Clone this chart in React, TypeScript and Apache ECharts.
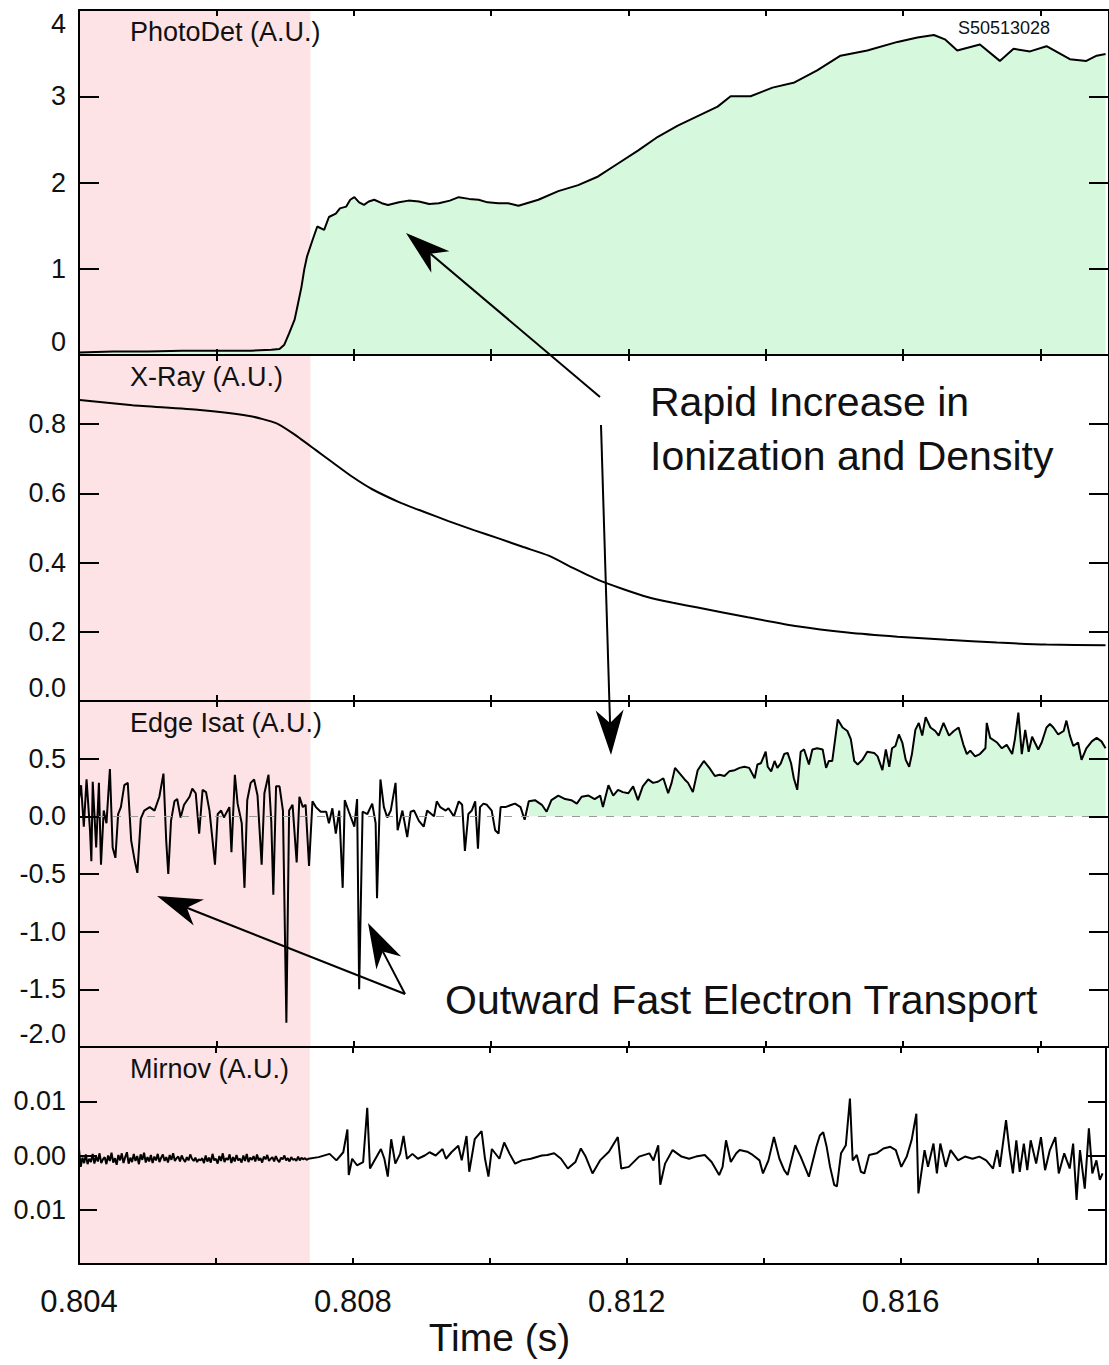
import React, { useEffect, useRef } from "react";
import * as echarts from "echarts";

// ---------- axis / layout values ----------
const X_MIN = 0.804;
const X_MAX = 0.819;
const X_TICK = 0.002;
const X_LABELS = [0.804, 0.808, 0.812, 0.816];
const SHADE_START = 0.804;
const SHADE_END = 0.80737;
const ISAT_FILL_FROM = 0.8105;

// ---------- data: [time (s), value (A.U.)] ----------
const photoDet: [number, number][] = [
  [0.804, 0.03], [0.8045, 0.04], [0.805, 0.04], [0.8055, 0.05], [0.806, 0.05], [0.8065, 0.05],
  [0.8068, 0.06], [0.80692, 0.07], [0.80699, 0.12], [0.80706, 0.25], [0.80714, 0.41], [0.80718, 0.56],
  [0.80724, 0.79], [0.80728, 0.99], [0.80732, 1.14], [0.8074, 1.33], [0.80747, 1.49], [0.80757, 1.45],
  [0.80764, 1.6], [0.80774, 1.64], [0.8078, 1.7], [0.80789, 1.72], [0.80795, 1.8], [0.80801, 1.83],
  [0.80808, 1.77], [0.80815, 1.74], [0.80822, 1.78], [0.8083, 1.8], [0.80841, 1.76], [0.8085, 1.74],
  [0.80866, 1.77], [0.8088, 1.79], [0.80895, 1.78], [0.8091, 1.75], [0.80924, 1.76], [0.8094, 1.79],
  [0.80953, 1.83], [0.80968, 1.81], [0.80982, 1.8], [0.80995, 1.77], [0.81011, 1.76], [0.81025, 1.76],
  [0.8104, 1.73], [0.81069, 1.8], [0.81098, 1.9], [0.81127, 1.97], [0.81156, 2.07], [0.81185, 2.22],
  [0.81214, 2.37], [0.81243, 2.53], [0.81272, 2.66], [0.81301, 2.77], [0.8133, 2.88], [0.81349, 3.0],
  [0.81378, 3.0], [0.8141, 3.1], [0.81442, 3.16], [0.81475, 3.3], [0.81509, 3.47], [0.81548, 3.53],
  [0.81592, 3.63], [0.81621, 3.68], [0.81645, 3.71], [0.81661, 3.66], [0.81679, 3.53], [0.81712, 3.6],
  [0.81741, 3.41], [0.81761, 3.55], [0.81785, 3.52], [0.81809, 3.58], [0.81843, 3.43], [0.81867, 3.41],
  [0.81882, 3.47], [0.81895, 3.49],
];

const xRay: [number, number][] = [
  [0.80401, 0.87], [0.80478, 0.855], [0.80576, 0.841], [0.80648, 0.824], [0.80687, 0.803],
  [0.80711, 0.774], [0.80745, 0.725], [0.80769, 0.69], [0.80798, 0.648], [0.80827, 0.612],
  [0.80866, 0.575], [0.80902, 0.547], [0.80938, 0.52], [0.80975, 0.494], [0.81011, 0.47],
  [0.81047, 0.445], [0.81084, 0.42], [0.8112, 0.384], [0.81156, 0.35], [0.81193, 0.323],
  [0.81229, 0.3], [0.81265, 0.284], [0.81301, 0.27], [0.81374, 0.242], [0.81446, 0.216],
  [0.81519, 0.198], [0.81592, 0.186], [0.81664, 0.177], [0.81737, 0.169], [0.81809, 0.163],
  [0.81895, 0.161],
];

const isat: [number, number][] = [
  [0.804, 0.15], [0.80403, 0.27], [0.80407, -0.09], [0.80411, 0.32], [0.80416, -0.12], [0.80418, -0.39],
  [0.8042, 0.3], [0.80425, -0.27], [0.80429, 0.29], [0.80432, -0.42], [0.80436, 0.05], [0.8044, -0.06],
  [0.80445, 0.41], [0.80449, -0.27], [0.80453, -0.36], [0.80457, 0.02], [0.80461, 0.08], [0.80466, 0.27],
  [0.80471, 0.29], [0.80476, -0.21], [0.80481, -0.38], [0.80485, -0.49], [0.8049, -0.02], [0.80495, 0.05],
  [0.80503, 0.08], [0.8051, 0.05], [0.80517, 0.17], [0.80523, 0.37], [0.80527, -0.21], [0.8053, -0.5],
  [0.80534, -0.04], [0.80539, 0.13], [0.80543, 0.15], [0.80548, -0.01], [0.80553, 0.1], [0.80561, 0.17],
  [0.80565, 0.24], [0.8057, 0.2], [0.80575, -0.15], [0.8058, 0.23], [0.80585, 0.21], [0.8059, 0.05],
  [0.80594, -0.18], [0.80598, -0.42], [0.80602, 0.02], [0.80607, 0.05], [0.80611, -0.01], [0.80619, 0.08],
  [0.80622, -0.31], [0.80627, 0.36], [0.80631, 0.11], [0.80637, -0.06], [0.80641, -0.62], [0.80645, 0.14],
  [0.8065, 0.29], [0.80655, 0.32], [0.8066, 0.18], [0.80666, -0.42], [0.8067, 0.2], [0.80676, 0.36],
  [0.8068, -0.04], [0.80683, -0.68], [0.80687, 0.26], [0.80692, 0.26], [0.80697, 0.05], [0.80702, -1.79],
  [0.80706, 0.05], [0.80711, 0.1], [0.80717, -0.4], [0.80721, 0.17], [0.80726, 0.08], [0.8073, 0.1],
  [0.80735, -0.43], [0.8074, 0.13], [0.80745, 0.08], [0.80752, 0.04], [0.8076, 0.04], [0.80764, -0.06],
  [0.80769, 0.07], [0.80774, -0.15], [0.80779, 0.05], [0.80784, -0.62], [0.80787, 0.14], [0.80793, 0.04],
  [0.80801, -0.09], [0.80805, 0.15], [0.80808, -1.5], [0.80813, 0.04], [0.8082, 0.02], [0.80827, 0.11],
  [0.80832, -0.06], [0.80834, -0.71], [0.80839, 0.32], [0.80844, 0.08], [0.80849, -0.01], [0.80854, 0.05],
  [0.80861, 0.29], [0.80864, -0.12], [0.80871, 0.05], [0.80878, -0.18], [0.80883, 0.04], [0.80888, 0.05],
  [0.80895, -0.04], [0.80902, -0.09], [0.80907, 0.05], [0.80917, 0.0], [0.80921, 0.13], [0.80926, 0.08],
  [0.80934, 0.05], [0.80938, 0.07], [0.80946, 0.0], [0.80953, 0.13], [0.80958, 0.1], [0.80962, -0.3],
  [0.80967, 0.02], [0.80972, 0.05], [0.80977, 0.13], [0.80981, -0.28], [0.80984, 0.08], [0.80989, 0.11],
  [0.80994, 0.1], [0.81001, 0.05], [0.81006, -0.12], [0.81011, -0.15], [0.81014, 0.08], [0.81021, 0.08],
  [0.8103, 0.1], [0.81035, 0.11], [0.81043, 0.08], [0.81049, -0.03], [0.81055, 0.13], [0.81064, 0.14],
  [0.81074, 0.1], [0.81081, 0.04], [0.81088, 0.14], [0.81098, 0.18], [0.81108, 0.15], [0.81117, 0.14],
  [0.81125, 0.11], [0.81132, 0.17], [0.81142, 0.18], [0.81151, 0.15], [0.81159, 0.18], [0.81163, 0.08],
  [0.81171, 0.27], [0.81178, 0.18], [0.81185, 0.23], [0.81192, 0.21], [0.812, 0.2], [0.81207, 0.26],
  [0.81214, 0.14], [0.81221, 0.26], [0.81229, 0.32], [0.81236, 0.29], [0.81243, 0.3], [0.81251, 0.33],
  [0.81258, 0.2], [0.81263, 0.29], [0.81268, 0.42], [0.81275, 0.37], [0.81282, 0.32], [0.81287, 0.29],
  [0.81294, 0.21], [0.81301, 0.4], [0.8131, 0.48], [0.81318, 0.42], [0.81326, 0.35], [0.81333, 0.36],
  [0.8134, 0.35], [0.81347, 0.39], [0.81355, 0.4], [0.81362, 0.42], [0.81369, 0.43], [0.81376, 0.42],
  [0.81384, 0.33], [0.81388, 0.45], [0.81393, 0.46], [0.814, 0.56], [0.81403, 0.43], [0.81408, 0.39],
  [0.81413, 0.48], [0.81417, 0.42], [0.81422, 0.46], [0.81427, 0.54], [0.81432, 0.55], [0.81437, 0.46],
  [0.81441, 0.33], [0.81446, 0.23], [0.81451, 0.56], [0.81456, 0.58], [0.81463, 0.45], [0.81468, 0.58],
  [0.81475, 0.59], [0.81483, 0.58], [0.81488, 0.42], [0.81492, 0.48], [0.81497, 0.48], [0.81505, 0.84],
  [0.81512, 0.77], [0.81519, 0.74], [0.81524, 0.67], [0.81529, 0.48], [0.81534, 0.45], [0.81541, 0.49],
  [0.81548, 0.56], [0.81558, 0.55], [0.81563, 0.52], [0.8157, 0.4], [0.81575, 0.58], [0.8158, 0.43],
  [0.81584, 0.59], [0.81589, 0.61], [0.81594, 0.71], [0.81599, 0.64], [0.81604, 0.49], [0.81609, 0.43],
  [0.81613, 0.54], [0.81618, 0.75], [0.81623, 0.81], [0.81628, 0.7], [0.81633, 0.86], [0.8164, 0.77],
  [0.81647, 0.74], [0.81652, 0.7], [0.81659, 0.81], [0.81667, 0.7], [0.81674, 0.74], [0.81681, 0.77],
  [0.81688, 0.62], [0.81693, 0.54], [0.81698, 0.57], [0.81705, 0.52], [0.81712, 0.54], [0.8172, 0.59],
  [0.81722, 0.81], [0.81727, 0.68], [0.81737, 0.64], [0.81744, 0.59], [0.81751, 0.62], [0.81759, 0.54],
  [0.81763, 0.67], [0.81768, 0.9], [0.81773, 0.54], [0.81778, 0.75], [0.81783, 0.56], [0.81788, 0.69],
  [0.81792, 0.64], [0.81797, 0.58], [0.81802, 0.64], [0.81809, 0.77], [0.81814, 0.8], [0.81819, 0.77],
  [0.81826, 0.71], [0.81834, 0.74], [0.81838, 0.83], [0.81843, 0.7], [0.81848, 0.61], [0.81855, 0.64],
  [0.8186, 0.49], [0.81867, 0.59], [0.81875, 0.65], [0.81882, 0.68], [0.81889, 0.65], [0.81895, 0.59],
];

// Mirnov, quiet phase: samples every 25 microseconds from 0.804 s
const MIRNOV_QUIET_T0 = 0.804;
const MIRNOV_QUIET_DT = 0.000025;
const mirnovQuiet: number[] = [
  0.0012, -0.0021, -0.0004, -0.0014, 0.0002, -0.0016, -0.0006, -0.0012, 0.0003, -0.0015,
  -0.0002, -0.0011, 0.0004, -0.0014, -0.0007, -0.0003, -0.0016, 0.0, -0.001, 0.0005,
  -0.0013, -0.0005, -0.0017, 0.0001, -0.0009, 0.0004, -0.0014, -0.0003, 0.0006, -0.0015,
  -0.0004, -0.0012, 0.0003, -0.001, -0.0001, -0.0016, 0.0002, -0.0008, 0.0005, -0.0013,
  -0.0003, -0.0011, 0.0001, -0.0014, -0.0002, -0.0009, 0.0003, -0.0012, -0.0004, 0.0002,
  -0.001, -0.0003, -0.0013, 0.0001, -0.0008, 0.0004, -0.001, -0.0005, -0.0002, -0.0011,
  0.0, -0.0007, -0.0012, -0.0003, -0.0009, 0.0002, -0.0006, -0.001, -0.0004, -0.0012,
  -0.0007, -0.0009, -0.0005, -0.0014, 0.0, -0.0011, -0.0004, -0.0013, 0.0003, -0.0009,
  -0.0006, -0.0015, -0.0001, -0.001, 0.0004, -0.0012, -0.0005, -0.0008, 0.0002, -0.0014,
  -0.0003, -0.0011, 0.0001, -0.0009, -0.0006, -0.0013, 0.0, -0.001, 0.0003, -0.0012,
  -0.0004, -0.0008, -0.0001, -0.0011, 0.0002, -0.0009, -0.0005, -0.0013, -0.0002, -0.0007,
  0.0001, -0.001, -0.0006, -0.0003, -0.0011, -0.0001, -0.0008, -0.0012, -0.0004, -0.0007,
  0.0, -0.0009, -0.0005, -0.0011, -0.0003, -0.0008, -0.0006, -0.001, -0.0002, -0.0009,
  -0.0004, -0.0007, -0.0005, -0.0008, -0.0006,
];

// Mirnov, active phase: [time (s), value]
const mirnovActive: [number, number][] = [
  [0.8075, -0.0003], [0.80766, 0.0003], [0.80776, -0.0009], [0.80786, 0.0006],
  [0.80792, 0.0048], [0.80794, -0.0036], [0.80799, -0.0006], [0.80806, -0.0018], [0.80815, -0.0012], [0.80821, 0.0088],
  [0.80825, -0.0024], [0.80833, -0.0006], [0.80841, 0.0012], [0.80846, -0.0006], [0.80851, -0.0039], [0.80856, 0.003],
  [0.80862, -0.0015], [0.80869, 0.0003], [0.80874, 0.0036], [0.80879, -0.0006], [0.80887, 0.0003], [0.80895, -0.0006],
  [0.80905, 0.0], [0.80912, 0.0006], [0.80921, 0.0], [0.80931, 0.0012], [0.80936, -0.0006], [0.80944, 0.0006],
  [0.80954, 0.0018], [0.80959, -0.0009], [0.80966, 0.0036], [0.8097, -0.003], [0.80978, 0.003], [0.80988, 0.0045],
  [0.80993, -0.0006], [0.80998, -0.0039], [0.81003, 0.0012], [0.81014, -0.0006], [0.81021, 0.0024], [0.81029, 0.0003],
  [0.81037, -0.0015], [0.81047, -0.0009], [0.8106, -0.0006], [0.81076, 0.0], [0.81084, 0.0001], [0.81094, 0.0004],
  [0.81104, -0.0006], [0.81114, -0.0024], [0.81125, -0.0012], [0.81133, 0.0013], [0.8114, -0.0002], [0.8115, -0.0033],
  [0.81161, -0.0009], [0.81174, 0.0007], [0.81187, 0.0034], [0.81192, -0.0024], [0.81203, -0.0021], [0.81218, -0.0002],
  [0.81233, 0.0004], [0.81239, -0.0009], [0.81246, 0.0019], [0.81249, -0.0054], [0.81256, -0.0015], [0.81267, 0.001],
  [0.8128, -0.0002], [0.81291, -0.0006], [0.81301, -0.0002], [0.81314, 0.0001], [0.81324, -0.0012], [0.81335, -0.0036],
  [0.8134, -0.0021], [0.81345, 0.0028], [0.81352, -0.0012], [0.8136, 0.0004], [0.81365, 0.001], [0.81376, 0.0007],
  [0.81384, 0.0001], [0.81394, -0.0009], [0.81399, -0.0033], [0.81407, -0.0009], [0.81415, 0.0034], [0.81423, -0.0006],
  [0.8143, -0.0027], [0.81435, -0.0036], [0.81446, 0.0019], [0.81454, -0.0002], [0.81466, -0.0039], [0.81477, 0.0016],
  [0.81482, 0.0037], [0.81487, 0.0043], [0.81492, 0.0016], [0.81497, -0.0021], [0.81503, -0.0054], [0.81507, -0.0057],
  [0.81513, 0.0004], [0.8152, 0.0019], [0.81526, 0.0105], [0.8153, -0.0009], [0.81536, 0.0001], [0.81542, -0.003],
  [0.81547, -0.0033], [0.81554, 0.0001], [0.81565, 0.0004], [0.81575, 0.0013], [0.81585, 0.0016], [0.81593, 0.001],
  [0.81601, -0.0021], [0.81609, -0.0002], [0.81616, 0.0028], [0.81623, 0.0077], [0.81626, -0.007], [0.81635, 0.001],
  [0.8164, -0.0021], [0.81648, 0.0022], [0.81653, -0.0033], [0.81658, 0.0022], [0.81666, -0.0021], [0.81673, 0.001],
  [0.81684, -0.0009], [0.81694, -0.0002], [0.81705, -0.0006], [0.81715, -0.0002], [0.81725, -0.0009], [0.81735, -0.0024],
  [0.81741, 0.001], [0.81745, -0.0021], [0.81754, 0.0065], [0.81759, 0.001], [0.81764, -0.0033], [0.81769, 0.0028],
  [0.81774, -0.003], [0.8178, 0.0022], [0.81785, -0.0027], [0.8179, 0.0028], [0.81798, -0.0015], [0.81805, 0.0034],
  [0.81811, -0.0027], [0.81818, 0.001], [0.81826, 0.0034], [0.81831, -0.0033], [0.81839, 0.0004], [0.81847, -0.0024],
  [0.81852, 0.0022], [0.81857, -0.0082], [0.81862, 0.001], [0.81869, -0.0061], [0.81875, 0.005], [0.8188, -0.0033],
  [0.81886, -0.0009], [0.81891, -0.0045], [0.81895, -0.0033],
];

// ---------- panels ----------
const PANEL_TITLES = ["PhotoDet (A.U.)", "X-Ray (A.U.)", "Edge Isat (A.U.)", "Mirnov (A.U.)"];
const PANEL_TOPS = [10, 355, 701, 1047];
const PANEL_HEIGHTS = [345, 346, 346, 217];
const Y_MIN = [0, 0, -2, -0.02];
const Y_MAX = [4, 1, 1, 0.02];
const Y_INTERVAL = [1, 0.2, 0.5, 0.01];

const GRID_LEFT = 79;
const GRID_WIDTH = 1033;
const FONT = '"Liberation Sans", Arial, Helvetica, sans-serif';
const INK = "#111";
const GREEN = "#d6f9dd";
const PINK = "#fde3e5";

function yLabel(i: number, v: number): string {
  if (i === 0) return String(Math.round(v));
  if (i === 3) return Math.abs(v).toFixed(2);
  return v.toFixed(1);
}

function arrowParts(tail: [number, number], tip: [number, number]) {
  const len = 45, half = 14, notch = 13;
  const dx = tip[0] - tail[0];
  const dy = tip[1] - tail[1];
  const L = Math.hypot(dx, dy);
  const ux = dx / L, uy = dy / L;
  const nx = -uy, ny = ux;
  const bx = tip[0] - ux * len, by = tip[1] - uy * len;
  const mx = tip[0] - ux * (len - notch), my = tip[1] - uy * (len - notch);
  return [
    { type: "line", z: 100, shape: { x1: tail[0], y1: tail[1], x2: mx, y2: my }, style: { stroke: "#000", lineWidth: 2 } },
    {
      type: "polygon", z: 100,
      shape: { points: [tip, [bx + nx * half, by + ny * half], [mx, my], [bx - nx * half, by - ny * half]] },
      style: { fill: "#000" },
    },
  ];
}

export default function App() {
  const ref = useRef<HTMLDivElement>(null);

  useEffect(() => {
    document.body.style.margin = "0";
    if (!ref.current) return;
    const chart = echarts.init(ref.current, undefined, { renderer: "svg" });

    const grids = PANEL_TOPS.map((top, i) => ({ left: GRID_LEFT, width: GRID_WIDTH, top, height: PANEL_HEIGHTS[i] }));

    const xAxes: any[] = [];
    const yAxes: any[] = [];
    PANEL_TOPS.forEach((_, i) => {
      const xBase = {
        type: "value", gridIndex: i, min: X_MIN, max: X_MAX, interval: X_TICK, z: 10,
        splitLine: { show: false },
        axisLine: { show: true, onZero: false, lineStyle: { color: "#000", width: 2 } },
        axisTick: { show: true, inside: true, length: 6, lineStyle: { color: "#000", width: 2 } },
      };
      const last = i === PANEL_TOPS.length - 1;
      xAxes.push({
        ...xBase,
        position: "bottom",
        axisLabel: last
          ? {
              show: true, margin: 22, color: INK, fontSize: 31, fontFamily: FONT,
              formatter: (v: number) => (X_LABELS.some((l) => Math.abs(l - v) < 1e-7) ? v.toFixed(3) : ""),
            }
          : { show: false },
        name: last ? "Time (s)" : "",
        nameLocation: "middle",
        nameGap: 54,
        nameTextStyle: { color: INK, fontSize: 39, fontFamily: FONT, padding: [0, 186, 0, 0] },
      });
      xAxes.push({ ...xBase, position: "top", axisLabel: { show: false } });

      const yBase = {
        type: "value", gridIndex: i, min: Y_MIN[i], max: Y_MAX[i], interval: Y_INTERVAL[i], z: 10,
        splitLine: { show: false },
        axisLine: { show: true, onZero: false, lineStyle: { color: "#000", width: 2 } },
        axisTick: { show: true, inside: true, length: i === 3 ? 18 : 20, lineStyle: { color: "#000", width: 2 } },
      };
      yAxes.push({
        ...yBase,
        position: "left",
        axisLabel: {
          show: true, margin: 13, color: INK, fontSize: 27, fontFamily: FONT,
          showMinLabel: i !== 3, showMaxLabel: i === 0,
          verticalAlignMinLabel: "bottom", verticalAlignMaxLabel: "top",
          formatter: (v: number) => yLabel(i, v),
        },
      });
      yAxes.push({ ...yBase, position: "right", axisLabel: { show: false } });
    });

    const pinkArea = {
      silent: true,
      itemStyle: { color: PINK, opacity: 1 },
      data: [[{ xAxis: SHADE_START }, { xAxis: SHADE_END }]],
    };
    const lineStyle = { color: "#000", width: 2 };
    const isatFill = isat.filter((p) => p[0] >= ISAT_FILL_FROM);
    const mirnov: [number, number][] = [
      ...mirnovQuiet.map((v, k) => [MIRNOV_QUIET_T0 + k * MIRNOV_QUIET_DT, v] as [number, number]),
      ...mirnovActive,
    ];

    const titles = PANEL_TITLES.map((t, i) => ({
      type: "text", z: 100, x: 130, y: PANEL_TOPS[i] + 22,
      style: { text: t, font: `27px ${FONT}`, fill: INK, textAlign: "left", textVerticalAlign: "middle" },
    }));

    const notes = [
      { text: "Rapid Increase in", x: 650, y: 402, size: 41 },
      { text: "Ionization and Density", x: 650, y: 456, size: 41 },
      { text: "Outward Fast Electron Transport", x: 445, y: 1000, size: 41 },
      { text: "S50513028", x: 958, y: 28, size: 18 },
    ].map((n) => ({
      type: "text", z: 100, x: n.x, y: n.y,
      style: { text: n.text, font: `${n.size}px ${FONT}`, fill: INK, textAlign: "left", textVerticalAlign: "middle" },
    }));

    const arrows = [
      ...arrowParts([600, 397], [406, 233]),
      ...arrowParts([601, 425], [611, 755]),
      ...arrowParts([405, 994], [157, 896]),
      ...arrowParts([405, 994], [368, 923]),
    ];

    chart.setOption({
      animation: false,
      backgroundColor: "#fff",
      grid: grids,
      xAxis: xAxes,
      yAxis: yAxes,
      series: [
        {
          name: "PhotoDet", type: "line", xAxisIndex: 0, yAxisIndex: 0, data: photoDet,
          symbol: "none", showSymbol: false, lineStyle, z: 3,
          areaStyle: { color: GREEN, opacity: 1 }, markArea: pinkArea,
        },
        {
          name: "X-Ray", type: "line", xAxisIndex: 2, yAxisIndex: 2, data: xRay, smooth: 0.2,
          symbol: "none", showSymbol: false, lineStyle, z: 3, markArea: pinkArea,
        },
        {
          name: "Edge Isat fill", type: "line", xAxisIndex: 4, yAxisIndex: 4, data: isatFill,
          symbol: "none", showSymbol: false, lineStyle: { width: 0, opacity: 0 }, z: 2,
          areaStyle: { color: GREEN, opacity: 1 }, markArea: pinkArea,
        },
        {
          name: "Edge Isat", type: "line", xAxisIndex: 4, yAxisIndex: 4, data: isat,
          symbol: "none", showSymbol: false, lineStyle, z: 3,
          markLine: {
            silent: true, symbol: ["none", "none"], label: { show: false },
            lineStyle: { color: "#9a9a9a", type: [8, 9], width: 1.2 },
            data: [{ yAxis: 0 }],
          },
        },
        {
          name: "Mirnov", type: "line", xAxisIndex: 6, yAxisIndex: 6, data: mirnov,
          symbol: "none", showSymbol: false, lineStyle, z: 3, markArea: pinkArea,
        },
      ],
      graphic: [...titles, ...notes, ...arrows],
    });

    return () => chart.dispose();
  }, []);

  return <div ref={ref} style={{ width: 1109, height: 1365 }} />;
}
